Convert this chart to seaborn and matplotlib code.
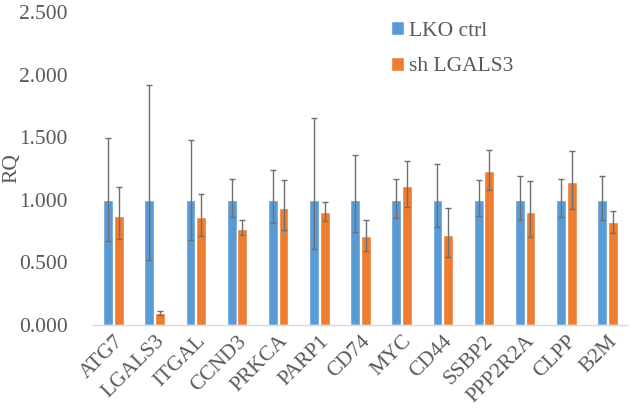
import numpy as np
import pandas as pd
import matplotlib
matplotlib.use('Agg')
import matplotlib.pyplot as plt
import seaborn as sns

# DADOS ======================================================================
genes = ['ATG7', 'LGALS3', 'ITGAL', 'CCND3', 'PRKCA', 'PARP1', 'CD74',
         'MYC', 'CD44', 'SSBP2', 'PPP2R2A', 'CLPP', 'B2M']
series = ['LKO ctrl', 'sh LGALS3']

ctrl_rq = [1.0, 1.0, 1.0, 1.0, 1.0, 1.0, 1.0, 1.0, 1.0, 1.0, 1.0, 1.0, 1.0]
ctrl_min = [0.672, 0.52, 0.68, 0.86, 0.813, 0.608, 0.74, 0.853, 0.779, 0.869, 0.837, 0.86, 0.837]
ctrl_max = [1.496, 1.92, 1.48, 1.165, 1.237, 1.653, 1.355, 1.168, 1.283, 1.155, 1.19, 1.165, 1.19]

sh_rq = [0.872, 0.096, 0.86, 0.77, 0.936, 0.904, 0.707, 1.112, 0.715, 1.227, 0.899, 1.141, 0.821]
sh_min = [0.688, 0.08, 0.712, 0.717, 0.757, 0.832, 0.595, 0.941, 0.541, 1.075, 0.701, 0.93, 0.733]
sh_max = [1.104, 0.11, 1.045, 0.84, 1.16, 0.98, 0.84, 1.307, 0.933, 1.397, 1.152, 1.389, 0.914]

yticks = [0.0, 0.5, 1.0, 1.5, 2.0, 2.5]
cores = ['#5B9BD5', '#ED7D31']

# GRAFICO ====================================================================
sns.set_style('white')
plt.rcParams['font.family'] = ['Liberation Serif', 'DejaVu Serif']

df = pd.DataFrame({
    'Gene': genes * 2,
    'Grupo': [series[0]] * len(genes) + [series[1]] * len(genes),
    'RQ': ctrl_rq + sh_rq,
})

fig = plt.figure(figsize=(6.33, 4.16), dpi=100)
ax = fig.add_axes([93 / 633, 1 - 325 / 416, 535 / 633, 313 / 416])

sns.barplot(data=df, x='Gene', y='RQ', hue='Grupo', order=genes,
            hue_order=series, palette=cores, width=0.52, gap=0.08,
            errorbar=None, saturation=1, ax=ax)

# barras de erro assimetricas (min/max do RQ)
limites = [(ctrl_rq, ctrl_min, ctrl_max), (sh_rq, sh_min, sh_max)]
for cont, (rq, lo, hi) in zip(ax.containers, limites):
    xs = [p.get_x() + p.get_width() / 2 for p in cont.patches]
    rq = np.array(rq)
    yerr = [rq - np.array(lo), np.array(hi) - rq]
    ax.errorbar(xs, rq, yerr=yerr, fmt='none', ecolor='#6f6f6f',
                elinewidth=1, capsize=2.5, capthick=1)

ax.set_xlim(-0.5, len(genes) - 0.5)
ax.set_ylim(0, 2.5)
ax.set_yticks(yticks)
ax.set_yticklabels([f'{v:.3f}' for v in yticks], fontsize=15.5, color='#595959')
ax.set_xticks(range(len(genes)))
ax.set_xticklabels(genes, rotation=45, ha='right', rotation_mode='anchor',
                   fontsize=15.5, color='#595959')
ax.tick_params(axis='y', length=0, pad=18)
ax.tick_params(axis='x', length=0, pad=5)
ax.set_xlabel('')
ax.set_ylabel('RQ', fontsize=15.5, color='#595959')
ax.yaxis.set_label_coords(-0.133, 0.5)

for s in ['top', 'right', 'left']:
    ax.spines[s].set_visible(False)
ax.spines['bottom'].set_color('#d9d9d9')
ax.spines['bottom'].set_linewidth(1)

ax.legend(loc='upper left', bbox_to_anchor=(372 / 633, 1 - 2 / 416),
          bbox_transform=fig.transFigure, frameon=False, fontsize=15.5,
          handlelength=0.6, handleheight=0.6, handletextpad=0.2,
          labelspacing=0.75, labelcolor='#595959')

fig.savefig('out.png', dpi=100)
